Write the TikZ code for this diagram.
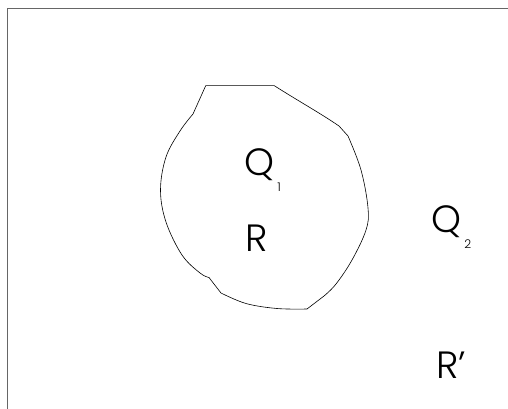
\documentclass[tikz,border=0pt]{standalone}
\usepackage{fontspec}
\setmainfont{Poppins Light}
\usetikzlibrary{positioning}

\begin{document}
\begin{tikzpicture}[
  x=1pt, y=-1pt,
  frame/.style={draw=black!60, line width=1.3pt},
  region/.style={draw, line width=0.6pt, line join=round},
  letter/.style={font=\fontsize{38}{40}\selectfont, inner sep=0pt, anchor=base},
  sub/.style={font=\fontsize{12}{13}\selectfont, inner sep=0pt, anchor=north west}
]
  \useasboundingbox (0,0) rectangle (508,409);
  % frame
  \draw[frame] (7.5,409) -- (7.5,8.5) -- (508,8.5);

  % region R
  \draw[region] (205.7,85.7) -- (274.3,85.7)
    .. controls (300,102) and (320,113) .. (339,126) -- (348,136)
    -- plot[smooth, tension=0.6] coordinates {(348,136) (361,170) (368,208) (366,230) (352,260) (336,284) (324,296)}
    -- (307,309)
    -- plot[smooth, tension=0.6] coordinates {(307,309) (277,308.5) (246,303.5) (221,293)}
    -- plot[smooth, tension=0.6] coordinates {(221,293) (214,284) (209,277.5)}
    -- plot[smooth, tension=0.6] coordinates {(209,277.5) (200,273) (182,255) (166,222) (160.5,190) (166,157) (180,131) (193,114)}
    -- cycle;

  % labels
  \node[letter] (q1) at (259,175) {Q};
  \node[sub, below right=8pt and 3pt of q1.base east] (q1sub) {1};
  \node[letter] (r) at (257,251) {R};
  \node[letter] (q2) at (446,232) {Q};
  \node[sub, below right=8pt and 3pt of q2.base east] (q2sub) {2};
  \node[letter] (rprime) at (451,378) {R’};
\end{tikzpicture}
\end{document}
